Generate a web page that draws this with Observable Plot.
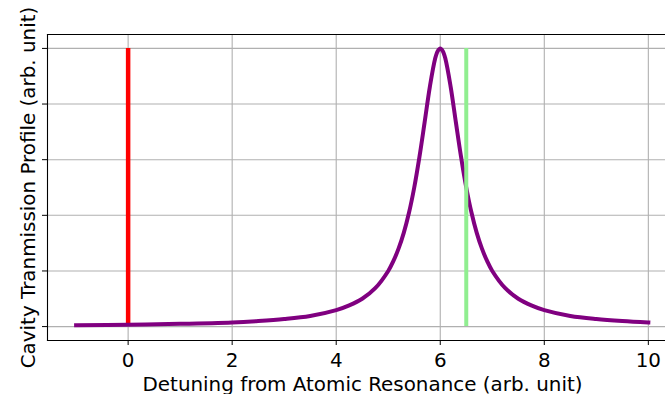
<!DOCTYPE html>
<html>
<head>
<meta charset="utf-8">
<script src="https://cdn.jsdelivr.net/npm/d3@7"></script>
<script src="https://cdn.jsdelivr.net/npm/@observablehq/plot@0.6"></script>
<style>
  html, body { margin: 0; padding: 0; background: #fff; overflow: hidden; }
</style>
</head>
<body>
<div id="chart"></div>
<script>
// Cavity transmission profile
const detuning = [-1, 0, 1, 2, 2.5, 3, 3.5, 4, 4.25, 4.5, 4.75, 5, 5.1, 5.2, 5.3, 5.4, 5.5, 5.6, 5.7, 5.8, 5.9, 5.95, 6,
                  6.05, 6.1, 6.2, 6.3, 6.4, 6.5, 6.6, 6.7, 6.8, 6.9, 7, 7.25, 7.5, 7.75, 8, 8.5, 9, 9.5, 10];
const transmission = [0.005, 0.007, 0.010, 0.015, 0.020, 0.027, 0.038, 0.059, 0.076, 0.100, 0.138, 0.200, 0.236, 0.281, 0.338, 0.410, 0.500, 0.610, 0.735, 0.862, 0.962, 0.990, 1.000,
                      0.990, 0.962, 0.862, 0.735, 0.610, 0.500, 0.410, 0.338, 0.281, 0.236, 0.200, 0.138, 0.100, 0.076, 0.059, 0.038, 0.027, 0.020, 0.015];
const atomLine = [0];      // atomic resonance marker
const probeLine = [6.5];   // probe marker
const xTicks = [0, 2, 4, 6, 8, 10];
const yTicks = [0, 0.2, 0.4, 0.6, 0.8, 1.0];
const xLabel = "Detuning from Atomic Resonance (arb. unit)";
const yLabel = "Cavity Tranmission Profile (arb. unit)";

const profile = detuning.map((x, i) => ({x, y: transmission[i]}));

const FS = 19.9;
const chart = Plot.plot({
  width: 665,
  height: 394,
  marginLeft: 47,
  marginRight: 0,
  marginTop: 34,
  marginBottom: 54,
  style: {fontFamily: "'DejaVu Sans', sans-serif", fontSize: FS + "px", background: "#fff", color: "#000"},
  x: {domain: [-1.55, 10.33], axis: null},
  y: {domain: [-0.05, 1.05], axis: null},
  marks: [
    Plot.gridX(xTicks, {stroke: "#b0b0b0", strokeOpacity: 1, strokeWidth: 1.1}),
    Plot.gridY(yTicks, {stroke: "#b0b0b0", strokeOpacity: 1, strokeWidth: 1.1}),
    Plot.ruleX(atomLine, {x: d => d, y1: 0, y2: 1, stroke: "red", strokeWidth: 4.5}),
    Plot.line(profile, {x: "x", y: "y", stroke: "purple", strokeWidth: 4, curve: "catmull-rom", strokeLinecap: "square"}),
    Plot.ruleX(probeLine, {x: d => d, y1: 0, y2: 1, stroke: "#90ee90", strokeWidth: 4}),
    Plot.frame({anchor: "left", stroke: "#000", strokeWidth: 1.1}),
    Plot.frame({anchor: "top", stroke: "#000", strokeWidth: 1.1}),
    Plot.frame({anchor: "bottom", stroke: "#000", strokeWidth: 1.1}),
    Plot.axisX({ticks: xTicks, tickSize: 5, tickPadding: 7, fontSize: FS, label: null, stroke: "#000"}),
    Plot.axisY({ticks: yTicks, tickSize: 5, tickFormat: () => "", label: null, stroke: "#000"}),
    Plot.text([xLabel], {text: d => d, frameAnchor: "bottom", textAnchor: "middle", dx: 6, dy: 44, lineAnchor: "middle", fontSize: FS, fill: "#000"}),
    Plot.text([yLabel], {text: d => d, frameAnchor: "left", textAnchor: "middle", rotate: -90, dx: -19, lineAnchor: "middle", fontSize: FS, fill: "#000"})
  ]
});
document.getElementById("chart").appendChild(chart);
</script>
</body>
</html>
